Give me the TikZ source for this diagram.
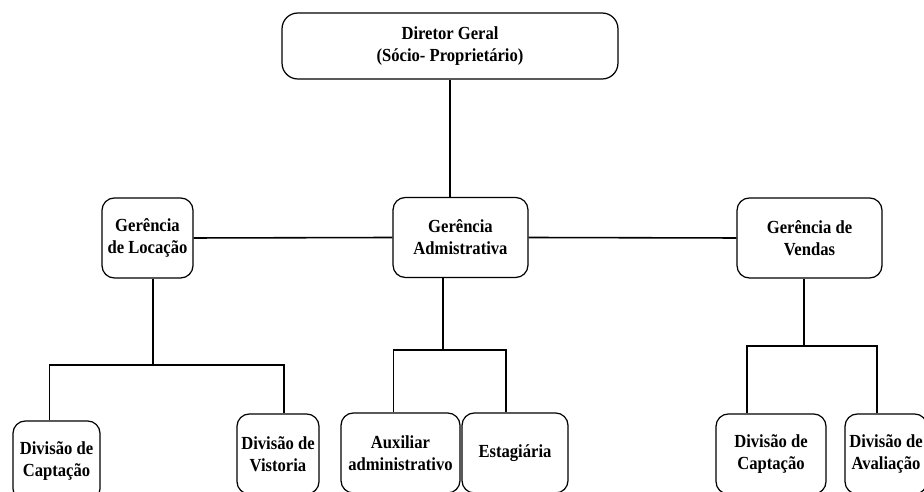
\documentclass[tikz,border=0pt]{standalone}
\usepackage{fontspec}
\setmainfont{Liberation Serif}[FakeStretch=0.9]
\usepackage{tikz}
\usetikzlibrary{calc}

\begin{document}
\begin{tikzpicture}[
  x=0.02cm,y=-0.02cm,
  font=\bfseries\fontsize{10.5}{12.5}\selectfont,
  cargo/.style={draw,line width=0.7pt,rounded corners=7pt,align=center,inner sep=0pt,minimum height=1.6cm},
  lig/.style={draw,line width=0.9pt},
]
\useasboundingbox (0,0) rectangle (924,492);
\clip (0,0) rectangle (924,492);
% nivel 1
\node[cargo,minimum width=6.72cm,minimum height=1.32cm,rounded corners=9pt] (dir) at (450,46) {Diretor Geral\\(Sócio- Proprietário)};
% nivel 2
\node[cargo,minimum width=1.82cm] (loc) at (147.5,238) {Gerência\\de Locação};
\node[cargo,minimum width=2.7cm] (adm) at (460.5,237.5) {Gerência\\Admistrativa};
\node[cargo,minimum width=2.9cm] (ven) at (809.5,238) {Gerência de\\Vendas};
% nivel 3
\node[cargo,minimum width=1.74cm] (capL) at (56.5,461) {Divisão de\\Captação};
\node[cargo,minimum width=1.64cm] (vis) at (278,454) {Divisão de\\Vistoria};
\node[cargo,minimum width=2.38cm] (aux) at (400.5,453) {Auxiliar\\administrativo};
\node[cargo,minimum width=2.12cm] (est) at (515,453) {Estagiária};
\node[cargo,minimum width=2.2cm] (capR) at (771,454) {Divisão de\\Captação};
\node[cargo,minimum width=1.64cm] (ava) at (886,454) {Divisão de\\Avaliação};
% juncoes
\coordinate (locj) at (153,365);
\coordinate (admj) at (443,350);
\coordinate (venj) at (804,346);
\draw[lig] (dir.south) -- (dir.south |- adm.north);
\draw[lig] (loc.east) -- (adm.west);
\draw[lig] (adm.east) -- (ven.west);
\draw[lig] (loc.south -| locj) -- (locj);
\draw[lig] ($(capL.north)+(-7,0)$) |- (locj) -| ($(vis.north)+(6,0)$);
\draw[lig] (adm.south -| admj) -- (admj);
\draw[lig] ($(aux.north)+(-7,0)$) |- (admj) -| ($(est.north)+(-9,0)$);
\draw[lig] (ven.south -| venj) -- (venj);
\draw[lig] ($(capR.north)+(-24,0)$) |- (venj) -| ($(ava.north)+(-9,0)$);
\end{tikzpicture}
\end{document}
